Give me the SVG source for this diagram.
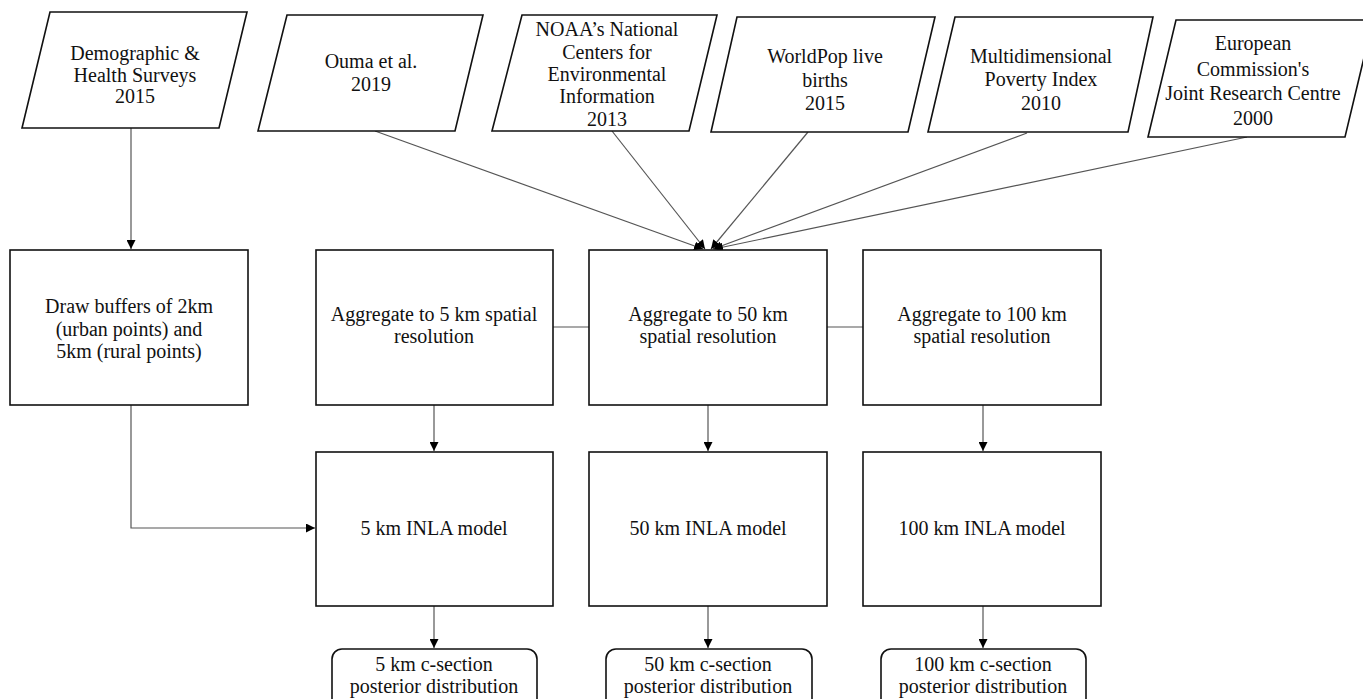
<svg xmlns="http://www.w3.org/2000/svg" width="1363" height="699" viewBox="0 0 1363 699">
<style>
.box{fill:#fff;stroke:#111;stroke-width:1.6}
text{font-family:'Liberation Serif','Tinos','DejaVu Serif','Times New Roman',serif;font-size:20px;fill:#111;text-anchor:middle}
.c{fill:none;stroke:#555;stroke-width:1.2}
</style>
<defs>
<marker id="ah" viewBox="0 0 10 10" refX="10" refY="5" markerWidth="9" markerHeight="9" markerUnits="userSpaceOnUse" orient="auto">
<path d="M0,0 L10,5 L0,10 z" fill="#000"/>
</marker>
</defs>
<rect width="1363" height="699" fill="#fff"/>

<g id="connectors">
<path class="c" d="M131,128 L131,249" marker-end="url(#ah)"/>
<path class="c" d="M131,405 L131,528 L315,528" stroke="#888" marker-end="url(#ah)"/>
<path class="c" d="M375,131 L703,249" marker-end="url(#ah)"/>
<path class="c" d="M612,131 L705,249" marker-end="url(#ah)"/>
<path class="c" d="M808,132 L711,249" marker-end="url(#ah)"/>
<path class="c" d="M1027,133 L713,249" marker-end="url(#ah)"/>
<path class="c" d="M1247,137 L714,249" marker-end="url(#ah)"/>
<path class="c" d="M553,327 L589,327"/>
<path class="c" d="M827,327 L863,327"/>
<path class="c" d="M434,405 L434,451" marker-end="url(#ah)"/>
<path class="c" d="M708,405 L708,451" marker-end="url(#ah)"/>
<path class="c" d="M983,405 L983,451" marker-end="url(#ah)"/>
<path class="c" d="M434,606 L434,648" marker-end="url(#ah)"/>
<path class="c" d="M708,606 L708,648" marker-end="url(#ah)"/>
<path class="c" d="M983,606 L983,648" marker-end="url(#ah)"/>
</g>

<g id="src-dhs">
<polygon class="box" points="50,12 247,12 219,128 22,128"/>
<text x="135" y="60" font-family="Liberation Serif, serif">Demographic &amp;</text>
<text x="135" y="82" font-family="Liberation Serif, serif">Health Surveys</text>
<text x="135" y="103" font-family="Liberation Serif, serif">2015</text>
</g>
<g id="src-ouma">
<polygon class="box" points="287,15 483,15 455,131 258,131"/>
<text x="371" y="68">Ouma et al.</text>
<text x="371" y="91">2019</text>
</g>
<g id="src-noaa">
<polygon class="box" points="522,15 717,15 689,131 492,131"/>
<text x="607" y="36">NOAA’s National</text>
<text x="607" y="59">Centers for</text>
<text x="607" y="81">Environmental</text>
<text x="607" y="103">Information</text>
<text x="607" y="126">2013</text>
</g>
<g id="src-worldpop">
<polygon class="box" points="737,17 935,17 908,132 711,132"/>
<text x="825" y="63">WorldPop live</text>
<text x="825" y="87">births</text>
<text x="825" y="110">2015</text>
</g>
<g id="src-mpi">
<polygon class="box" points="955,17 1153,17 1128,132 928,132"/>
<text x="1041" y="63">Multidimensional</text>
<text x="1041" y="86">Poverty Index</text>
<text x="1041" y="110">2010</text>
</g>
<g id="src-jrc">
<polygon class="box" points="1176,20 1373,20 1345,137 1148,137"/>
<text x="1253" y="50">European</text>
<text x="1253" y="76">Commission's</text>
<text x="1253" y="100">Joint Research Centre</text>
<text x="1253" y="125">2000</text>
</g>

<g id="buffers">
<rect class="box" x="10" y="250" width="238" height="155"/>
<text x="129" y="313">Draw buffers of 2km</text>
<text x="129" y="336">(urban points) and</text>
<text x="129" y="358">5km (rural points)</text>
</g>
<g id="agg5">
<rect class="box" x="316" y="250" width="237" height="155"/>
<text x="434" y="321">Aggregate to 5 km spatial</text>
<text x="434" y="343">resolution</text>
</g>
<g id="agg50">
<rect class="box" x="589" y="250" width="238" height="155"/>
<text x="708" y="321">Aggregate to 50 km</text>
<text x="708" y="343">spatial resolution</text>
</g>
<g id="agg100">
<rect class="box" x="863" y="250" width="238" height="155"/>
<text x="982" y="321">Aggregate to 100 km</text>
<text x="982" y="343">spatial resolution</text>
</g>

<g id="inla5">
<rect class="box" x="316" y="452" width="237" height="154"/>
<text x="434" y="535">5 km INLA model</text>
</g>
<g id="inla50">
<rect class="box" x="589" y="452" width="238" height="154"/>
<text x="708" y="535">50 km INLA model</text>
</g>
<g id="inla100">
<rect class="box" x="863" y="452" width="238" height="154"/>
<text x="982" y="535">100 km INLA model</text>
</g>

<g id="post5">
<rect class="box" x="332" y="649" width="205" height="60" rx="10"/>
<text x="434" y="671">5 km c-section</text>
<text x="434" y="693">posterior distribution</text>
</g>
<g id="post50">
<rect class="box" x="606" y="649" width="206" height="60" rx="10"/>
<text x="708" y="671">50 km c-section</text>
<text x="708" y="693">posterior distribution</text>
</g>
<g id="post100">
<rect class="box" x="881" y="649" width="205" height="60" rx="10"/>
<text x="983" y="671">100 km c-section</text>
<text x="983" y="693">posterior distribution</text>
</g>
</svg>
